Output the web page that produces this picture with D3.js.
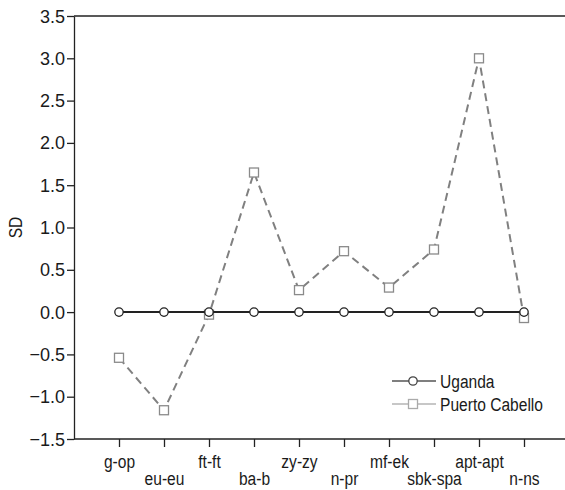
<!DOCTYPE html>
<html>
<head>
<meta charset="utf-8">
<script src="https://cdn.jsdelivr.net/npm/d3@7"></script>
<style>
  body { margin: 0; background: #fff; }
  text { font-family: "Liberation Sans", Arial, sans-serif; fill: #1a1a1a; }
</style>
</head>
<body>
<div id="chart"></div>
<script>
// Data
const categories = ['g-op', 'eu-eu', 'ft-ft', 'ba-b', 'zy-zy', 'n-pr', 'mf-ek', 'sbk-spa', 'apt-apt', 'n-ns'];
const uganda = [0, 0, 0, 0, 0, 0, 0, 0, 0, 0];
const puertoCabello = [-0.54, -1.16, -0.03, 1.65, 0.26, 0.72, 0.29, 0.74, 3.0, -0.07];
const yTicks = [-1.5, -1.0, -0.5, 0.0, 0.5, 1.0, 1.5, 2.0, 2.5, 3.0, 3.5];
const seriesNames = ['Uganda', 'Puerto Cabello'];

const W = 565, H = 490;
const LEFT = 74, TOP = 16, BOTTOM = 439;
// Condensed look: Arial-metric font squeezed horizontally
const SQUEEZE = 0.82;
const DIGIT_SQUEEZE = 0.95;
const FONT_SIZE = '19px';

const svg = d3.select('#chart')
  .append('svg')
  .attr('width', W)
  .attr('height', H);

// Scales
const x = d3.scalePoint()
  .domain(categories)
  .range([LEFT, 569])
  .padding(1);

const y = d3.scaleLinear()
  .domain([-1.5, 3.5])
  .range([BOTTOM, TOP]);

// Top frame line
svg.append('line')
  .attr('x1', LEFT).attr('x2', W)
  .attr('y1', TOP).attr('y2', TOP)
  .attr('stroke', '#222')
  .attr('stroke-width', 1.3);

// Y axis
const yAxis = svg.append('g')
  .attr('transform', `translate(${LEFT},0)`)
  .call(d3.axisLeft(y).tickValues(yTicks).tickFormat(d3.format('.1f')).tickSize(7).tickSizeOuter(0).tickPadding(2));
yAxis.selectAll('text')
  .style('font-size', FONT_SIZE)
  .attr('fill', '#1a1a1a')
  .attr('x', -9 / DIGIT_SQUEEZE)
  .attr('transform', `scale(${DIGIT_SQUEEZE},1)`);
yAxis.selectAll('line, path').attr('stroke', '#222').attr('stroke-width', 1.3);

// X axis
const xAxis = svg.append('g')
  .attr('transform', `translate(0,${BOTTOM})`)
  .call(d3.axisBottom(x).tickSize(8).tickSizeOuter(0));
xAxis.select('.domain').attr('d', `M${LEFT},0H${W}`);
xAxis.selectAll('line, path').attr('stroke', '#222').attr('stroke-width', 1.3);
xAxis.selectAll('text')
  .style('font-size', FONT_SIZE)
  .attr('fill', '#1a1a1a')
  .attr('dy', null)
  .attr('y', (d, i) => (i % 2 === 0 ? 29 : 46))
  .attr('transform', `scale(${SQUEEZE},1)`);

// Y axis label
svg.append('text')
  .attr('transform', `translate(22,${(TOP + BOTTOM) / 2}) rotate(-90) scale(${SQUEEZE},1)`)
  .attr('text-anchor', 'middle')
  .style('font-size', FONT_SIZE)
  .text('SD');

// Puerto Cabello dashed line
const line = d3.line()
  .x((d, i) => x(categories[i]))
  .y(d => y(d));

svg.append('path')
  .datum(puertoCabello)
  .attr('fill', 'none')
  .attr('stroke', '#808080')
  .attr('stroke-width', 2)
  .attr('stroke-dasharray', '8,5')
  .attr('d', line);

svg.append('g')
  .selectAll('rect')
  .data(puertoCabello)
  .enter()
  .append('rect')
  .attr('x', (d, i) => x(categories[i]) - 4.5)
  .attr('y', d => y(d) - 4.5)
  .attr('width', 9)
  .attr('height', 9)
  .attr('fill', '#fff')
  .attr('stroke', '#8a8a8a')
  .attr('stroke-width', 1.3);

// Uganda solid line
svg.append('path')
  .datum(uganda)
  .attr('fill', 'none')
  .attr('stroke', '#222')
  .attr('stroke-width', 2)
  .attr('d', line);

svg.append('g')
  .selectAll('circle')
  .data(uganda)
  .enter()
  .append('circle')
  .attr('cx', (d, i) => x(categories[i]))
  .attr('cy', d => y(d))
  .attr('r', 4.2)
  .attr('fill', '#fff')
  .attr('stroke', '#222')
  .attr('stroke-width', 1.3);

// Legend
const legend = svg.append('g').attr('transform', 'translate(392,381)');
const legendColors = ['#555', '#b5b5b5'];
seriesNames.forEach(function(name, i) {
  const g = legend.append('g').attr('transform', `translate(0,${i * 23})`);
  g.append('line')
    .attr('x1', 0).attr('x2', 44)
    .attr('stroke', legendColors[i])
    .attr('stroke-width', 1.6);
  if (i === 0) {
    g.append('circle').attr('cx', 21).attr('r', 4.2)
      .attr('fill', '#fff').attr('stroke', '#444').attr('stroke-width', 1.3);
  } else {
    g.append('rect').attr('x', 16.5).attr('y', -4.5).attr('width', 9).attr('height', 9)
      .attr('fill', '#fff').attr('stroke', '#aaa').attr('stroke-width', 1.3);
  }
  g.append('text')
    .attr('transform', `translate(48,0) scale(${SQUEEZE},1)`)
    .attr('dy', '0.35em')
    .style('font-size', FONT_SIZE)
    .text(name);
});
</script>
</body>
</html>
